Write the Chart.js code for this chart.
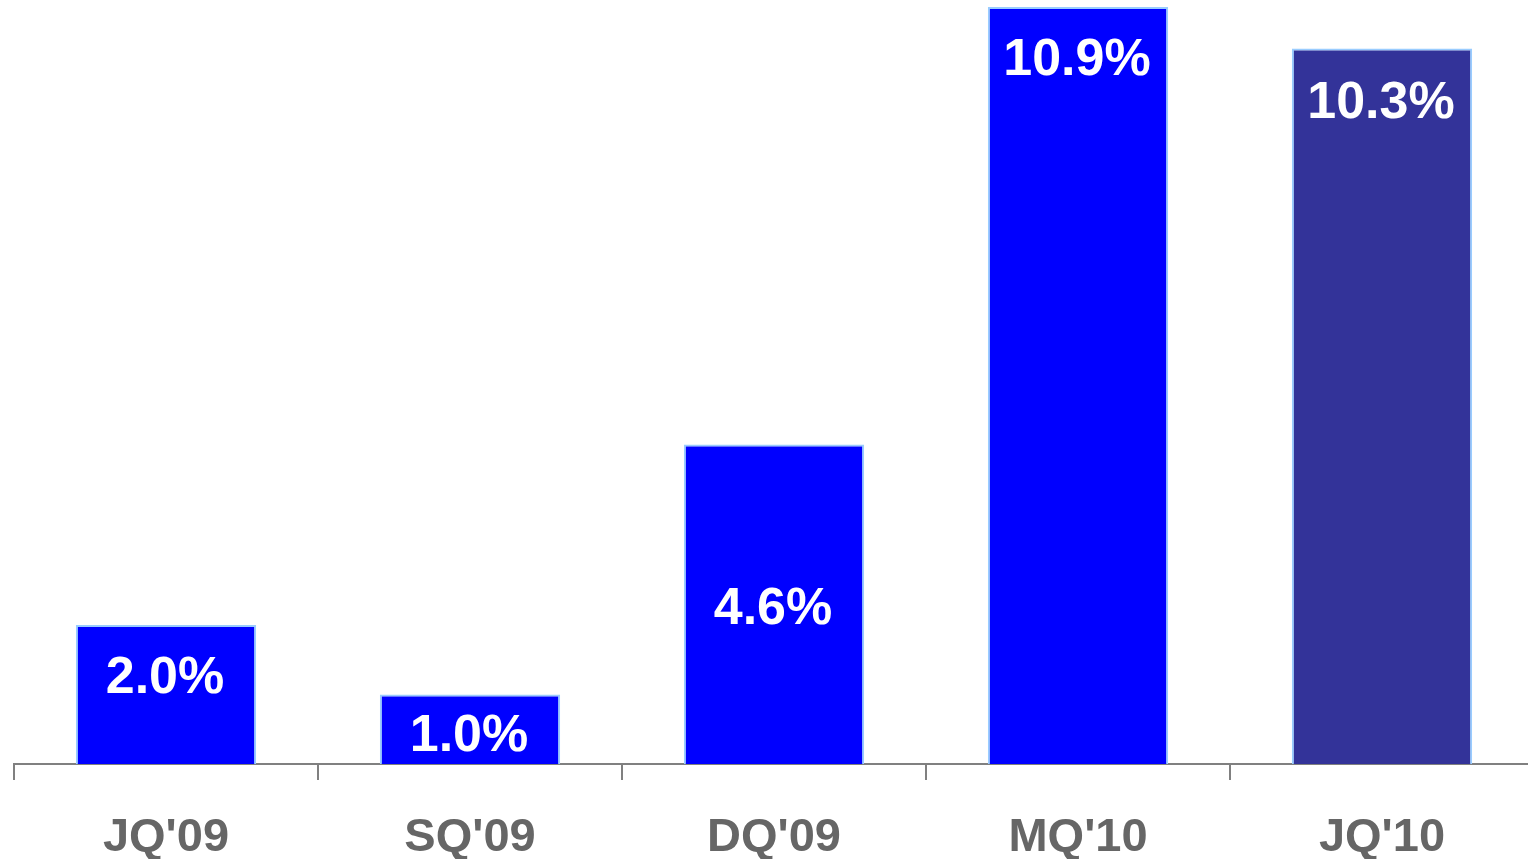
<!DOCTYPE html>
<html>
<head>
<meta charset="utf-8">
<script src="https://cdn.jsdelivr.net/npm/chart.js@4"></script>
<style>
    html, body { margin: 0; padding: 0; background: #ffffff; overflow: hidden; }
    #wrap { width: 1534px; height: 859px; position: relative; }
</style>
</head>
<body>
<div id="wrap"><canvas id="growthChart"></canvas></div>
<script>
// Trimestres e valores (%)
const quarters = ["JQ'09", "SQ'09", "DQ'09", "MQ'10", "JQ'10"];
const growth = [2.0, 1.0, 4.6, 10.9, 10.3];
const barColors = ['#0000ff', '#0000ff', '#0000ff', '#0000ff', '#333399'];
// distância (px) do topo da barra até o centro do rótulo
const labelOffsets = [54, 42, 165, 54, 55];

// Escreve o valor dentro de cada barra
const valueLabels = {
    id: 'valueLabels',
    afterDatasetsDraw(chart) {
        const ctx = chart.ctx;
        const meta = chart.getDatasetMeta(0);
        ctx.save();
        ctx.fillStyle = '#ffffff';
        ctx.font = 'bold 52px "Liberation Sans", Arial, sans-serif';
        ctx.textAlign = 'center';
        ctx.textBaseline = 'middle';
        meta.data.forEach((bar, i) => {
            ctx.fillText(growth[i].toFixed(1) + '%', bar.x - 1, bar.y + labelOffsets[i]);
        });
        ctx.restore();
    }
};

const ctx = document.getElementById('growthChart').getContext('2d');
new Chart(ctx, {
    type: 'bar',
    data: {
        labels: quarters,
        datasets: [{
            data: growth,
            backgroundColor: barColors,
            borderColor: '#99ccff',
            borderWidth: 2,
            categoryPercentage: 1,
            barPercentage: 0.593
        }]
    },
    options: {
        responsive: true,
        maintainAspectRatio: false,
        animation: false,
        layout: { padding: { left: 14, top: 0, right: 0, bottom: 0 } },
        plugins: {
            legend: { display: false },
            tooltip: { enabled: false }
        },
        scales: {
            x: {
                afterFit(scale) { scale.height = 95; },
                grid: {
                    display: true,
                    drawOnChartArea: false,
                    drawTicks: true,
                    tickLength: 16,
                    color: '#808080',
                    lineWidth: 2
                },
                border: { display: true, color: '#808080', width: 2 },
                ticks: {
                    color: '#666666',
                    padding: 30,
                    font: { family: '"Liberation Sans", Arial, sans-serif', size: 47, weight: 'bold' }
                }
            },
            y: {
                display: false,
                min: 0,
                max: 11
            }
        }
    },
    plugins: [valueLabels]
});
</script>
</body>
</html>
